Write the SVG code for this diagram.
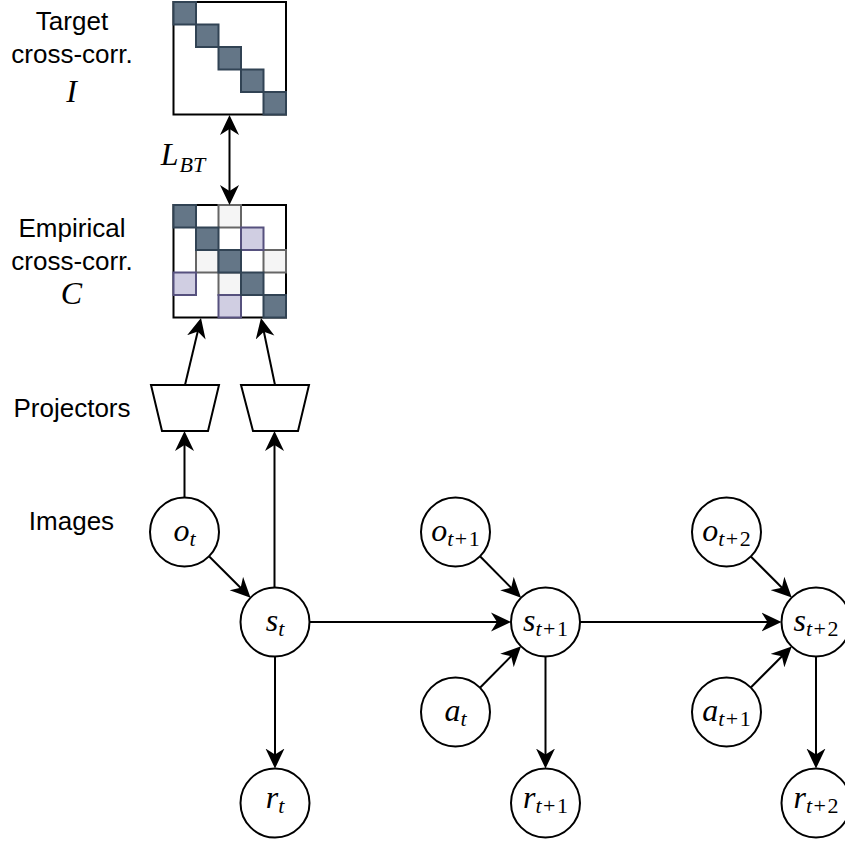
<svg xmlns="http://www.w3.org/2000/svg" width="845" height="842" viewBox="0 0 845 842">
<style>
.lbl{font-family:"Liberation Sans",Arial,sans-serif;font-size:26px;fill:#000;text-anchor:middle}
.m{font-family:"Liberation Serif","Times New Roman",serif;font-style:italic;font-size:32px;fill:#000;text-anchor:middle}
.sub{font-size:22px}
.up{font-style:normal}
.node{fill:#fff;stroke:#000;stroke-width:2}
.edge{fill:none;stroke:#000;stroke-width:2}
.box{fill:#fff;stroke:#000;stroke-width:2}
.dk{fill:#647687;stroke:#314354;stroke-width:2}
.lg{fill:#f5f5f5;stroke:#666666;stroke-width:2}
.pu{fill:#d0cee2;stroke:#56517e;stroke-width:2}
</style>
<defs>
<marker id="ah" markerUnits="userSpaceOnUse" viewBox="0 0 20 20" markerWidth="20" markerHeight="20" refX="14" refY="10" orient="auto">
<path d="M0,0.5 L20,10 L0,19.5 L6,10 Z" fill="#000"/>
</marker>
<marker id="as" markerUnits="userSpaceOnUse" viewBox="0 0 20 20" markerWidth="20" markerHeight="20" refX="6" refY="10" orient="auto">
<path d="M20,0.5 L0,10 L20,19.5 L14,10 Z" fill="#000"/>
</marker>
</defs>

<g id="labels">
<text class="lbl" x="72" y="30">Target</text>
<text class="lbl" x="72" y="63">cross-corr.</text>
<text class="m" x="71.5" y="102">I</text>
<text class="lbl" x="72" y="237">Empirical</text>
<text class="lbl" x="72" y="270">cross-corr.</text>
<text class="m" x="71.5" y="304">C</text>
<text class="lbl" x="72" y="417">Projectors</text>
<text class="lbl" x="71.5" y="530">Images</text>
<text class="m" x="183" y="165">L<tspan class="sub" dy="7" dx="1">BT</tspan></text>
</g>

<g id="target-matrix">
<rect class="box" x="173.5" y="2" width="112.5" height="112.5"/>
<rect class="dk" x="173.5" y="2" width="22.5" height="22.5"/>
<rect class="dk" x="196" y="24.5" width="22.5" height="22.5"/>
<rect class="dk" x="218.5" y="47" width="22.5" height="22.5"/>
<rect class="dk" x="241" y="69.5" width="22.5" height="22.5"/>
<rect class="dk" x="263.5" y="92" width="22.5" height="22.5"/>
</g>

<g id="empirical-matrix">
<rect class="box" x="173.5" y="205" width="112.5" height="112.5"/>
<rect class="lg" x="218.5" y="205" width="22.5" height="22.5"/>
<rect class="lg" x="196" y="250" width="22.5" height="22.5"/>
<rect class="lg" x="263.5" y="250" width="22.5" height="22.5"/>
<rect class="lg" x="218.5" y="272.5" width="22.5" height="22.5"/>
<rect class="pu" x="241" y="227.5" width="22.5" height="22.5"/>
<rect class="pu" x="173.5" y="272.5" width="22.5" height="22.5"/>
<rect class="pu" x="218.5" y="295" width="22.5" height="22.5"/>
<rect class="dk" x="173.5" y="205" width="22.5" height="22.5"/>
<rect class="dk" x="196" y="227.5" width="22.5" height="22.5"/>
<rect class="dk" x="218.5" y="250" width="22.5" height="22.5"/>
<rect class="dk" x="241" y="272.5" width="22.5" height="22.5"/>
<rect class="dk" x="263.5" y="295" width="22.5" height="22.5"/>
</g>

<g id="proj-left"><polygon class="node" points="151,385 219,385 208,431 162,431"/></g>
<g id="proj-right"><polygon class="node" points="241,385 309,385 298,431 253,431"/></g>

<g id="connectors">
<line class="edge" x1="229.5" y1="121" x2="229.5" y2="199" marker-start="url(#as)" marker-end="url(#ah)"/>
<line class="edge" x1="184.5" y1="497.5" x2="184.5" y2="437" marker-end="url(#ah)"/>
<line class="edge" x1="274.5" y1="587.5" x2="274.5" y2="437" marker-end="url(#ah)"/>
<line class="edge" x1="185" y1="385" x2="199.6" y2="323.8" marker-end="url(#ah)"/>
<line class="edge" x1="275" y1="385" x2="262.2" y2="323.8" marker-end="url(#ah)"/>
<line class="edge" x1="209" y1="556.3" x2="246.3" y2="593.5" marker-end="url(#ah)"/>
<line class="edge" x1="309.5" y1="622" x2="505" y2="622" marker-end="url(#ah)"/>
<line class="edge" x1="275" y1="656.5" x2="275" y2="762.5" marker-end="url(#ah)"/>
<line class="edge" x1="480" y1="556.3" x2="516.8" y2="593.5" marker-end="url(#ah)"/>
<line class="edge" x1="480" y1="687.7" x2="516.8" y2="650.5" marker-end="url(#ah)"/>
<line class="edge" x1="580" y1="622" x2="775.5" y2="622" marker-end="url(#ah)"/>
<line class="edge" x1="545.5" y1="656.5" x2="545.5" y2="762.5" marker-end="url(#ah)"/>
<line class="edge" x1="750.8" y1="556.5" x2="787.5" y2="593.3" marker-end="url(#ah)"/>
<line class="edge" x1="750.8" y1="687.5" x2="787.5" y2="650.7" marker-end="url(#ah)"/>
<line class="edge" x1="816" y1="656.5" x2="816" y2="762.5" marker-end="url(#ah)"/>
</g>

<g id="o_t"><circle class="node" cx="184.5" cy="532" r="34.5"/><text class="m" x="184.5" y="541">o<tspan class="sub" dy="5">t</tspan></text></g>
<g id="s_t"><circle class="node" cx="275" cy="622" r="34.5"/><text class="m" x="275" y="631">s<tspan class="sub" dy="5">t</tspan></text></g>
<g id="r_t"><circle class="node" cx="275" cy="803" r="34.5"/><text class="m" x="275" y="808">r<tspan class="sub" dy="5">t</tspan></text></g>
<g id="o_t1"><circle class="node" cx="455.5" cy="532" r="34.5"/><text class="m" x="455.5" y="541">o<tspan class="sub" dy="5">t</tspan><tspan class="sub up" dx="1.5">+</tspan><tspan class="sub up" dx="1.5">1</tspan></text></g>
<g id="s_t1"><circle class="node" cx="545.5" cy="622" r="34.5"/><text class="m" x="545.5" y="631">s<tspan class="sub" dy="5">t</tspan><tspan class="sub up" dx="1.5">+</tspan><tspan class="sub up" dx="1.5">1</tspan></text></g>
<g id="a_t"><circle class="node" cx="455.5" cy="712" r="34.5"/><text class="m" x="455.5" y="721">a<tspan class="sub" dy="5">t</tspan></text></g>
<g id="r_t1"><circle class="node" cx="545.5" cy="803" r="34.5"/><text class="m" x="545.5" y="808">r<tspan class="sub" dy="5">t</tspan><tspan class="sub up" dx="1.5">+</tspan><tspan class="sub up" dx="1.5">1</tspan></text></g>
<g id="o_t2"><circle class="node" cx="726.5" cy="532" r="34.5"/><text class="m" x="726.5" y="541">o<tspan class="sub" dy="5">t</tspan><tspan class="sub up" dx="1.5">+</tspan><tspan class="sub up" dx="1.5">2</tspan></text></g>
<g id="s_t2"><circle class="node" cx="816" cy="622" r="34.5"/><text class="m" x="816" y="631">s<tspan class="sub" dy="5">t</tspan><tspan class="sub up" dx="1.5">+</tspan><tspan class="sub up" dx="1.5">2</tspan></text></g>
<g id="a_t1"><circle class="node" cx="726.5" cy="712" r="34.5"/><text class="m" x="726.5" y="721">a<tspan class="sub" dy="5">t</tspan><tspan class="sub up" dx="1.5">+</tspan><tspan class="sub up" dx="1.5">1</tspan></text></g>
<g id="r_t2"><circle class="node" cx="816" cy="803" r="34.5"/><text class="m" x="816" y="808">r<tspan class="sub" dy="5">t</tspan><tspan class="sub up" dx="1.5">+</tspan><tspan class="sub up" dx="1.5">2</tspan></text></g>
</svg>
